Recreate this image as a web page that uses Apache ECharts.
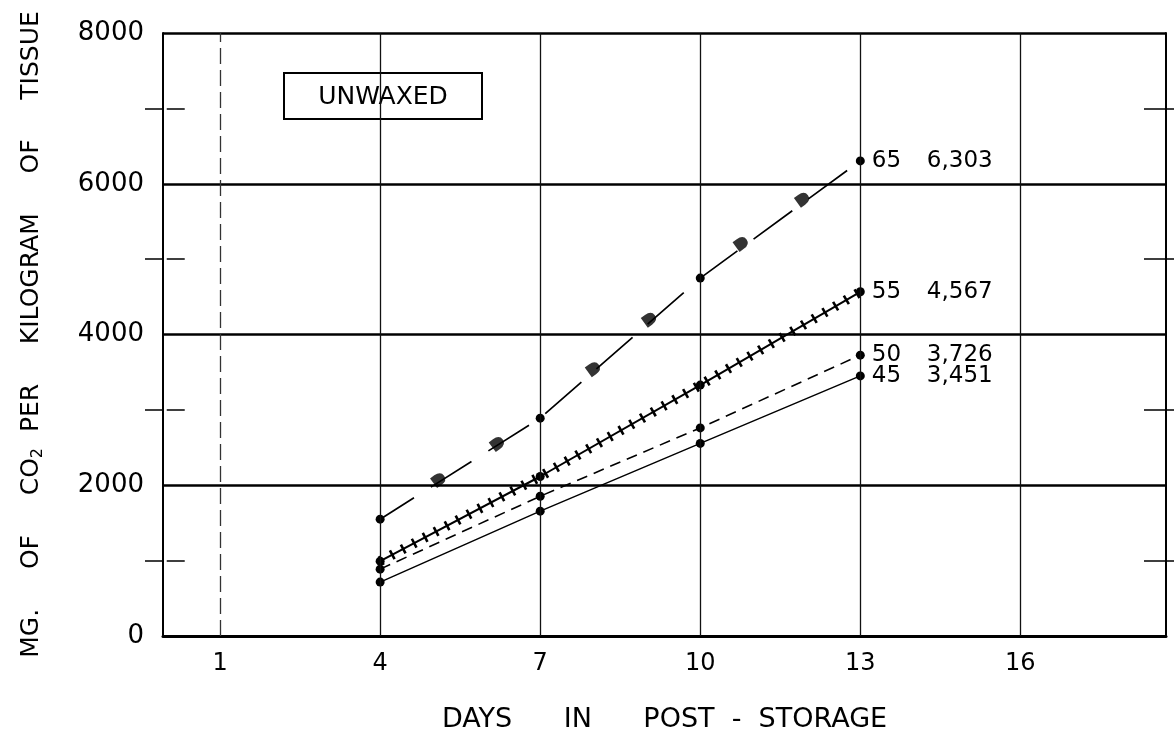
<!DOCTYPE html>
<html>
<head>
<meta charset="utf-8">
<script src="https://cdn.jsdelivr.net/npm/echarts@6/dist/echarts.min.js"></script>
<style>
html,body{margin:0;padding:0;background:#fff;}
#chart{width:1174px;height:742px;}
</style>
</head>
<body>
<div id="chart"></div>
<script>
// ---- data ----
const days = [4, 7, 10, 13];
const temp65 = [1550, 2890, 4748, 6303];
const temp55 = [993, 2116, 3329, 4567];
const temp50 = [887, 1854, 2761, 3726];
const temp45 = [715, 1656, 2555, 3451];
const seriesNames = ['65', '55', '50', '45'];
const endLabels = ['6,303', '4,567', '3,726', '3,451'];
const arrowDays65 = [5.1, 6.2, 8.0, 9.05, 10.77, 11.92];
const arrowVals65 = [2077, 2555, 3548, 4204, 5211, 5796];
const xTickLabels = [1, 4, 7, 10, 13, 16];
const yTicks = [0, 2000, 4000, 6000, 8000];
const gridDays = [4, 7, 10, 13, 16];
const dashedGridDay = 1;

const FONT = '"DejaVu Sans", sans-serif';
const pair = (xs, ys) => xs.map((x, i) => [x, ys[i]]);

function withEndLabel(arr, idx) {
  return pair(days, arr).map((p, i) => {
    if (i !== days.length - 1) return p;
    return {
      value: p,
      label: {
        show: true,
        position: 'right',
        distance: 7,
        formatter: '{n|' + seriesNames[idx] + '}{v|' + endLabels[idx] + '}',
        rich: {
          n: { fontFamily: FONT, fontSize: 23, color: '#000', width: 55 },
          v: { fontFamily: FONT, fontSize: 23, color: '#000' }
        }
      }
    };
  });
}

const yBase = { type: 'value', min: 0, max: 8000, interval: 2000 };

const option = {
  animation: false,
  backgroundColor: '#fff',
  grid: { left: 163, right: 8, top: 33, bottom: 106 },
  xAxis: {
    type: 'value',
    min: -0.07,
    max: 18.73,
    axisLine: { show: true, lineStyle: { color: '#000', width: 3 } },
    axisTick: { show: false },
    splitLine: { show: false },
    axisLabel: {
      customValues: xTickLabels,
      formatter: v => String(v),
      fontFamily: FONT, fontSize: 24, color: '#000', margin: 16
    },
    name: 'DAYS      IN      POST  -  STORAGE',
    nameLocation: 'middle',
    nameGap: 70,
    nameTextStyle: { fontFamily: FONT, fontSize: 27, color: '#000', verticalAlign: 'top' }
  },
  yAxis: [
    Object.assign({}, yBase, {
      position: 'left',
      axisLine: { show: true, onZero: false, lineStyle: { color: '#000', width: 2 } },
      axisTick: { show: false },
      minorTick: { show: true, splitNumber: 2, length: 18, lineStyle: { color: '#000', width: 1.5 } },
      splitLine: { show: true, lineStyle: { color: '#000', width: 2.5 } },
      axisLabel: {
        customValues: yTicks,
        formatter: v => String(v),
        fontFamily: FONT, fontSize: 26, color: '#000', margin: 19
      },
      name: 'MG.     OF     CO{s|2}  PER     KILOGRAM     OF     TISSUE',
      nameLocation: 'middle',
      nameRotate: 90,
      nameGap: 117,
      nameTextStyle: {
        fontFamily: FONT, fontSize: 25, color: '#000',
        rich: { s: { fontFamily: FONT, fontSize: 16, color: '#000', verticalAlign: 'bottom', padding: [14, 0, 0, 0] } }
      }
    }),
    Object.assign({}, yBase, {
      position: 'left',
      axisLine: { show: false },
      axisTick: { show: false, inside: true },
      minorTick: { show: true, splitNumber: 2, length: 18, lineStyle: { color: '#000', width: 1.5 } },
      splitLine: { show: false },
      axisLabel: { show: false }
    }),
    Object.assign({}, yBase, {
      position: 'right',
      axisLine: { show: true, onZero: false, lineStyle: { color: '#000', width: 2 } },
      axisTick: { show: false },
      minorTick: { show: true, splitNumber: 2, length: 8, lineStyle: { color: '#000', width: 1.5 } },
      splitLine: { show: false },
      axisLabel: { show: false }
    }),
    Object.assign({}, yBase, {
      position: 'right',
      axisLine: { show: false },
      axisTick: { show: false, inside: true },
      minorTick: { show: true, splitNumber: 2, length: 22, lineStyle: { color: '#000', width: 1.5 } },
      splitLine: { show: false },
      axisLabel: { show: false }
    })
  ],
  series: [
    {
      name: '45', type: 'line', data: withEndLabel(temp45, 3),
      symbol: 'circle', symbolSize: 9, itemStyle: { color: '#000' },
      lineStyle: { color: '#000', width: 1.5, type: 'solid' },
      z: 3,
      markLine: {
        silent: true, symbol: ['none', 'none'], label: { show: false },
        animation: false,
        data: gridDays.map(d => ({ xAxis: d, lineStyle: { color: '#111', width: 1.3, type: 'solid' } }))
          .concat([{ xAxis: dashedGridDay, lineStyle: { color: '#333', width: 1.3, type: [16, 6] } }])
      }
    },
    {
      name: '50', type: 'line', data: withEndLabel(temp50, 2),
      symbol: 'circle', symbolSize: 9, itemStyle: { color: '#000' },
      lineStyle: { color: '#000', width: 1.6, type: [11, 7] }, z: 3
    },
    {
      name: '55', type: 'line', data: withEndLabel(temp55, 1),
      symbol: 'circle', symbolSize: 9, itemStyle: { color: '#000' },
      lineStyle: { color: '#000', width: 2, type: 'solid' }, z: 3
    },
    {
      name: '55 hatch', type: 'line', data: pair(days, temp55),
      symbol: 'none', silent: true,
      lineStyle: { color: '#000', width: 10, type: [2.6, 9.8], cap: 'butt' }, z: 3
    },
    {
      name: '65', type: 'line', data: withEndLabel(temp65, 0),
      symbol: 'circle', symbolSize: 9, itemStyle: { color: '#000' },
      lineStyle: { color: '#000', width: 1.7, type: [48, 20], dashOffset: 8 }, z: 3
    },
    {
      name: '65 arrows', type: 'scatter', data: pair(arrowDays65, arrowVals65),
      symbol: 'path://M0,0 L0,10 L4,10 Q10,10 10,5 Q10,0 4,0 Z',
      symbolSize: [13, 12], symbolRotate: 36,
      itemStyle: { color: '#000' }, z: 4
    }
  ],
  graphic: [
    {
      type: 'group', z: 100,
      children: [
        { type: 'rect', shape: { x: 284, y: 73, width: 198, height: 46 },
          style: { fill: '#fff', stroke: '#000', lineWidth: 2 } },
        { type: 'text', x: 383, y: 97,
          style: { text: 'UNWAXED', fontFamily: FONT, fontSize: 25, fill: '#000', align: 'center', verticalAlign: 'middle' } }
      ]
    }
  ]
};

const chart = echarts.init(document.getElementById('chart'), null, { renderer: 'canvas' });
chart.setOption(option);
</script>
</body>
</html>
